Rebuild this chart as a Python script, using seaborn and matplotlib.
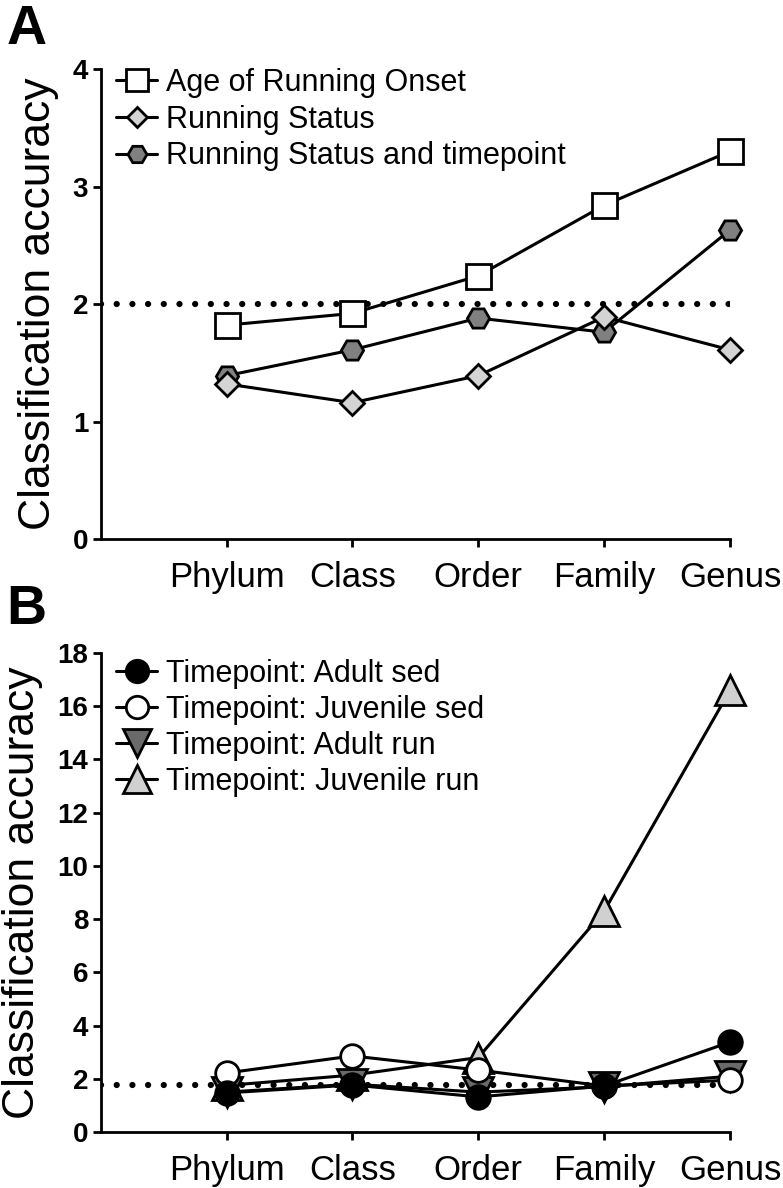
import matplotlib
matplotlib.use("Agg")
import matplotlib.pyplot as plt
import seaborn as sns

# Data
taxa = ['Phylum', 'Class', 'Order', 'Family', 'Genus']

# Panel A
age_onset = [1.82, 1.92, 2.24, 2.84, 3.30]
running_status = [1.32, 1.16, 1.39, 1.89, 1.61]
running_status_tp = [1.39, 1.61, 1.88, 1.76, 2.63]
chance_a = 2.0

# Panel B
adult_sed = [1.47, 1.77, 1.32, 1.73, 3.38]
juvenile_sed = [2.22, 2.86, 2.33, 1.73, 1.95]
adult_run = [1.50, 1.80, 1.50, 1.70, 2.10]
juvenile_run = [1.75, 2.14, 2.80, 8.30, 16.60]
chance_b = 1.75

sns.set_theme(style="ticks")
plt.rcParams['font.family'] = ['Liberation Sans', 'DejaVu Sans']
plt.rcParams['text.color'] = 'black'
plt.rcParams['axes.labelcolor'] = 'black'
plt.rcParams['xtick.color'] = 'black'
plt.rcParams['ytick.color'] = 'black'

fig = plt.figure(figsize=(7.83, 11.88), dpi=100)
ax_a = fig.add_axes([0.1286, 0.5463, 0.8037, 0.3956])
ax_b = fig.add_axes([0.1286, 0.0471, 0.8037, 0.4032])

LW = 2.2
MEW = 2.0


def draw(ax, y, label, marker, ms, face):
    sns.lineplot(x=taxa, y=y, ax=ax, label=label, color='black', lw=LW,
                 marker=marker, markersize=ms, markerfacecolor=face,
                 markeredgecolor='black', markeredgewidth=MEW, zorder=3,
                 clip_on=False)


def style(ax, ymax, step, legend_scale, spacing, top):
    ax.set_xlim(-1, 4)
    ax.set_ylim(0, ymax)
    ax.set_yticks(range(0, ymax + 1, step))
    ax.set_xticks(range(len(taxa)))
    ax.set_xticklabels(taxa, fontsize=25)
    for lab in ax.get_yticklabels():
        lab.set_fontweight('bold')
        lab.set_fontsize(20)
    ax.tick_params(axis='both', width=2, length=6, color='black', pad=3)
    ax.tick_params(axis='x', pad=10)
    for side in ['top', 'right']:
        ax.spines[side].set_visible(False)
    for side in ['left', 'bottom']:
        ax.spines[side].set_linewidth(2)
        ax.spines[side].set_color('black')
    ax.set_xlabel('')
    ax.set_ylabel('Classification accuracy', fontsize=32, labelpad=10)
    ax.legend(loc='upper left', bbox_to_anchor=(0.0, top), frameon=False,
              fontsize=22, handlelength=1.35, handletextpad=0.3,
              labelspacing=spacing, borderaxespad=0.1, markerscale=legend_scale)


# --- Panel A (first series drawn on top) ---
ax_a.axhline(chance_a, color='black', lw=4.5, ls=(0, (0.01, 2.5)),
             dash_capstyle='round', zorder=2)
draw(ax_a, age_onset, 'Age of Running Onset', 's', 18, 'white')
draw(ax_a, running_status, 'Running Status', 'D', 12.5, '#d4d4d4')
draw(ax_a, running_status_tp, 'Running Status and timepoint', 'H', 16, '#808080')
for ln, z in zip(ax_a.lines[1:], [5, 4, 3]):
    ln.set_zorder(z)
style(ax_a, 4, 1, 0.85, 0.22, 1.035)

# --- Panel B ---
ax_b.axhline(chance_b, color='black', lw=4.5, ls=(0, (0.01, 2.5)),
             dash_capstyle='round', zorder=2)
draw(ax_b, adult_sed, 'Timepoint: Adult sed', 'o', 17, 'black')
draw(ax_b, juvenile_sed, 'Timepoint: Juvenile sed', 'o', 17, 'white')
draw(ax_b, adult_run, 'Timepoint: Adult run', 'v', 21, '#6a6a6a')
draw(ax_b, juvenile_run, 'Timepoint: Juvenile run', '^', 21, '#d0d0d0')
for ln, z in zip(ax_b.lines[1:], [6, 5, 4, 3]):
    ln.set_zorder(z)
style(ax_b, 18, 2, 0.95, 0.2, 1.02)

fig.text(0.008, 0.997, 'A', fontsize=40, fontweight='bold', va='top', ha='left')
fig.text(0.008, 0.508, 'B', fontsize=40, fontweight='bold', va='top', ha='left')

fig.savefig('out.png', dpi=100)
